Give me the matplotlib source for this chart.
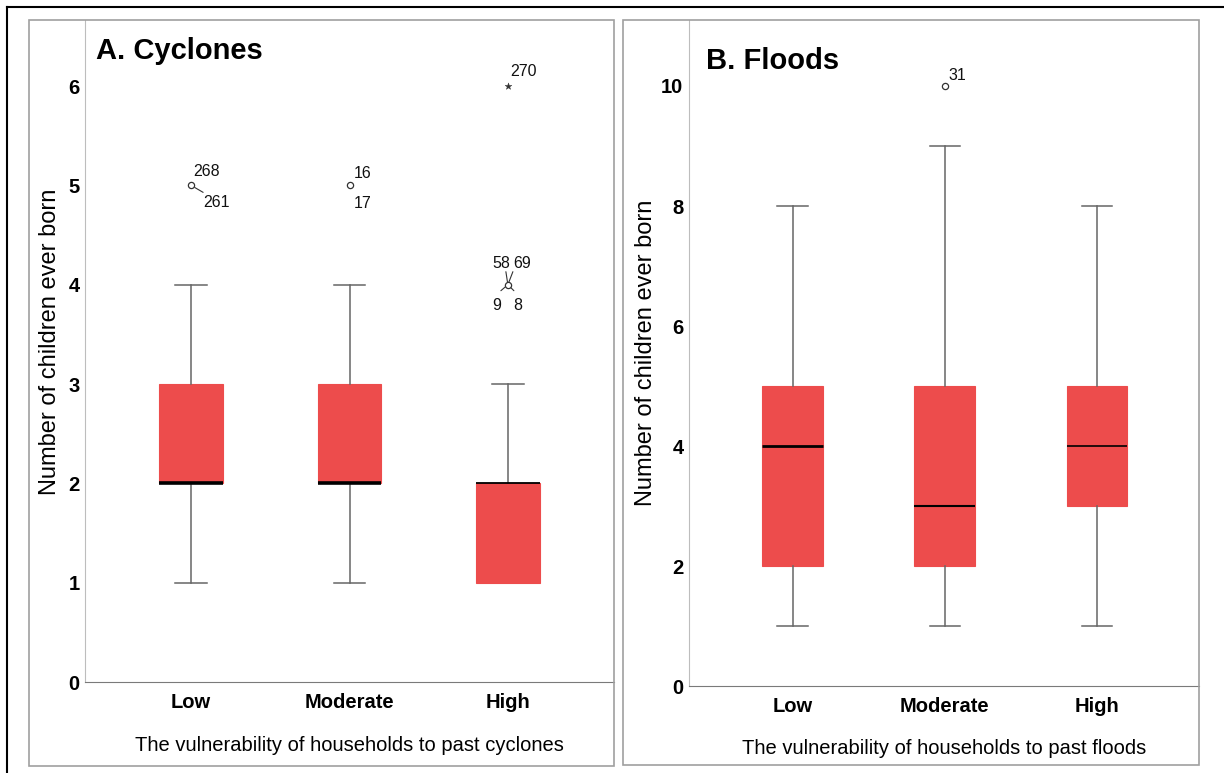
import matplotlib
matplotlib.use('Agg')
import matplotlib.pyplot as plt
from matplotlib.patches import Rectangle
from matplotlib.lines import Line2D

plt.rcParams['font.family'] = ['Liberation Sans', 'DejaVu Sans']

categories = ['Low', 'Moderate', 'High']

# Panel A: cyclones
cyc_whislo = [1, 1, 1]
cyc_q1 = [2, 2, 1]
cyc_med = [2, 2, 2]
cyc_q3 = [3, 3, 2]
cyc_whishi = [4, 4, 3]
cyc_outliers = [[5], [5], [4]]
cyc_outlier_labels = [['268', '261'], ['16', '17'], ['58', '69', '9', '8']]
cyc_extremes = [[], [], [6]]
cyc_extreme_labels = [[], [], ['270']]

# Panel B: floods
fl_whislo = [1, 1, 1]
fl_q1 = [2, 2, 3]
fl_med = [4, 3, 4]
fl_q3 = [5, 5, 5]
fl_whishi = [8, 9, 8]
fl_outliers = [[], [10], []]
fl_outlier_labels = [[], ['31'], []]

BOX = '#ED4C4C'
WHISK = '#666666'

W, H = 1224, 773
fig = plt.figure(figsize=(W / 100, H / 100), dpi=100)

def fx(px):
    return px / W

def fy(py):
    return 1 - py / H

# outer black frame (left and top visible)
fig.add_artist(Line2D([fx(7), fx(7)], [fy(7), 0], transform=fig.transFigure, color='black', lw=1.5))
fig.add_artist(Line2D([fx(7), 1], [fy(7), fy(7)], transform=fig.transFigure, color='black', lw=1.5))

# panel frames
for (x0, y0, x1, y1) in [(29, 20, 614, 766), (623, 20, 1199, 765)]:
    fig.add_artist(Rectangle((fx(x0), fy(y1)), fx(x1) - fx(x0), fy(y0) - fy(y1),
                             transform=fig.transFigure, fill=False,
                             edgecolor='#a0a0a0', lw=1.2))

axA = fig.add_axes([fx(85), fy(682), fx(614) - fx(85), fy(20) - fy(682)])
axB = fig.add_axes([fx(689), fy(686), fx(1199) - fx(689), fy(20) - fy(686)])


def draw(ax, wlo, q1, med, q3, whi, medlw):
    stats = []
    for i in range(len(categories)):
        stats.append(dict(whislo=wlo[i], q1=q1[i], med=med[i], q3=q3[i],
                          whishi=whi[i], fliers=[], label=categories[i]))
    pos = list(range(1, len(categories) + 1))
    art = ax.bxp(stats, positions=pos, widths=0.4, patch_artist=True,
                 showfliers=False, capwidths=0.2,
                 boxprops=dict(facecolor=BOX, edgecolor=BOX, lw=0.8),
                 whiskerprops=dict(color=WHISK, lw=1.1),
                 capprops=dict(color=WHISK, lw=1.1),
                 medianprops=dict(color='black', lw=2.5))
    for i, m in enumerate(art['medians']):
        m.set_linewidth(medlw[i])
        m.set_zorder(4)
    # hide caps of zero-length whiskers
    for i in range(len(categories)):
        if wlo[i] == q1[i]:
            art['caps'][2 * i].set_visible(False)
        if whi[i] == q3[i]:
            art['caps'][2 * i + 1].set_visible(False)
    return pos


posA = draw(axA, cyc_whislo, cyc_q1, cyc_med, cyc_q3, cyc_whishi, [2.6, 2.6, 1.3])
posB = draw(axB, fl_whislo, fl_q1, fl_med, fl_q3, fl_whishi, [2.0, 1.5, 1.2])

# outliers
circ = dict(marker='o', s=20, facecolors='white', edgecolors='#333333', linewidths=0.9, zorder=5)
for i, vals in enumerate(cyc_outliers):
    for v in vals:
        axA.scatter([posA[i]], [v], **circ)
for i, vals in enumerate(cyc_extremes):
    for v in vals:
        axA.scatter([posA[i]], [v], marker='*', s=26, color='#333333', linewidths=0.3, zorder=5)
for i, vals in enumerate(fl_outliers):
    for v in vals:
        axB.scatter([posB[i]], [v], **circ)

lab_fs = 11.5

def lab(ax, x, y, txt, dx, dy, ha='left', va='baseline'):
    ax.annotate(txt, (x, y), xytext=(dx, dy), textcoords='offset pixels',
                ha=ha, va=va, fontsize=lab_fs, color='#111111')

def conn(ax, x, y, dx0, dy0, dx1, dy1):
    ax.annotate('', (x, y), xytext=(dx1, dy1), textcoords='offset pixels',
                arrowprops=dict(arrowstyle='-', color='#333333', lw=0.8,
                                shrinkA=0, shrinkB=abs(dx0) + abs(dy0)))

# Low cyclone outlier labels
lab(axA, posA[0], cyc_outliers[0][0], cyc_outlier_labels[0][0], 2, 9)
lab(axA, posA[0], cyc_outliers[0][0], cyc_outlier_labels[0][1], 12, -22)
conn(axA, posA[0], cyc_outliers[0][0], 3, 0, 12, -7)
# Moderate
lab(axA, posA[1], cyc_outliers[1][0], cyc_outlier_labels[1][0], 4, 7)
lab(axA, posA[1], cyc_outliers[1][0], cyc_outlier_labels[1][1], 4, -23)
# High
lab(axA, posA[2], cyc_outliers[2][0], cyc_outlier_labels[2][0], -16, 17)
lab(axA, posA[2], cyc_outliers[2][0], cyc_outlier_labels[2][1], 5, 17)
lab(axA, posA[2], cyc_outliers[2][0], cyc_outlier_labels[2][2], -16, -25)
lab(axA, posA[2], cyc_outliers[2][0], cyc_outlier_labels[2][3], 5, -25)
for (ex, ey) in [(-2, 13), (5, 13), (-7, -6), (6, -6)]:
    conn(axA, posA[2], cyc_outliers[2][0], 2, 0, ex, ey)
# extreme
lab(axA, posA[2], cyc_extremes[2][0], cyc_extreme_labels[2][0], 2, 10)
# Floods outlier
lab(axB, posB[1], fl_outliers[1][0], fl_outlier_labels[1][0], 4, 6)

for ax, ylim, yticks, xlim in [(axA, 6.665, range(0, 7), (0.33, 3.67)),
                               (axB, 11.1, range(0, 11, 2), (0.32, 3.67))]:
    ax.set_ylim(0, ylim)
    ax.set_xlim(*xlim)
    ax.set_yticks(list(yticks))
    ax.set_xticks([1, 2, 3])
    ax.set_xticklabels(categories)
    ax.tick_params(axis='both', length=0)
    ax.tick_params(axis='y', pad=4, labelsize=14.5)
    ax.tick_params(axis='x', pad=8, labelsize=14.5)
    for t in ax.get_xticklabels() + ax.get_yticklabels():
        t.set_fontweight('bold')
    ax.spines['top'].set_visible(False)
    ax.spines['right'].set_visible(False)
    ax.spines['left'].set_color('#bdbdbd')
    ax.spines['bottom'].set_color('#7a7a7a')
    ax.set_facecolor('white')

axA.set_ylabel('Number of children ever born', fontsize=17)
axB.set_ylabel('Number of children ever born', fontsize=17)
axA.yaxis.set_label_coords(-0.046, 0.514)
axB.yaxis.set_label_coords(-0.062, 0.50)
axA.set_xlabel('The vulnerability of households to past cyclones', fontsize=14.5)
axB.set_xlabel('The vulnerability of households to past floods', fontsize=14.5)
axA.xaxis.set_label_coords(0.5, -0.082)
axB.xaxis.set_label_coords(0.5, -0.08)

axA.text(0.021, 0.975, 'A. Cyclones', transform=axA.transAxes, ha='left', va='top',
         fontsize=21, fontweight='bold')
axB.text(0.033, 0.96, 'B. Floods', transform=axB.transAxes, ha='left', va='top',
         fontsize=21, fontweight='bold')

fig.savefig('out.png', dpi=100, facecolor='white')
